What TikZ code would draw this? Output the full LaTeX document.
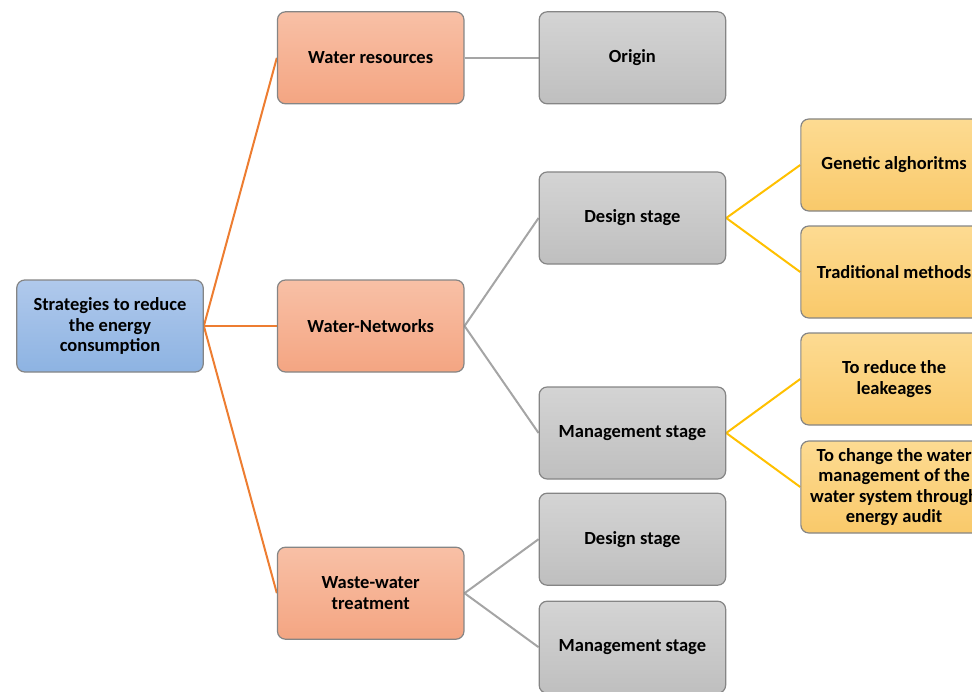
\documentclass[tikz,border=0pt]{standalone}
\usepackage{fontspec}
\setmainfont{Carlito}
\usetikzlibrary{positioning, backgrounds}

\definecolor{rootfill}{HTML}{8DB3E2}
\definecolor{rootfilltop}{HTML}{B0C9EC}
\definecolor{firstfill}{HTML}{F4A582}
\definecolor{firstfilltop}{HTML}{F8C0A6}
\definecolor{secondfill}{HTML}{BFBFBF}
\definecolor{secondfilltop}{HTML}{D4D4D4}
\definecolor{thirdfill}{HTML}{F9C96A}
\definecolor{thirdfilltop}{HTML}{FDDB92}
\definecolor{boxline}{HTML}{858585}
\definecolor{orangeline}{HTML}{ED7D31}
\definecolor{grayline}{HTML}{A5A5A5}
\definecolor{yellowline}{HTML}{FFC000}

\begin{document}
\begin{tikzpicture}[
    font=\fontsize{18.5}{20.5}\selectfont\bfseries,
    node distance=74pt,
    % Define styles for the different levels
    basebox/.style={rectangle, rounded corners=8pt, draw=boxline, line width=1.2pt, text centered, align=center, minimum width=186.5pt, minimum height=92pt, inner sep=2pt},
    rootbox/.style={basebox, top color=rootfilltop, bottom color=rootfill},
    firstbox/.style={basebox, top color=firstfilltop, bottom color=firstfill},
    secondbox/.style={basebox, top color=secondfilltop, bottom color=secondfill},
    thirdbox/.style={basebox, top color=thirdfilltop, bottom color=thirdfill},
    orangelink/.style={draw=orangeline, line width=2pt},
    graylink/.style={draw=grayline, line width=2pt},
    yellowlink/.style={draw=yellowline, line width=2pt},
]

% picture frame
\useasboundingbox (-110pt,-365pt) rectangle (862pt,326pt);
\clip (-110pt,-365pt) rectangle (862pt,326pt);

% -------------------------
% Root and first level
% -------------------------
\node (root) [rootbox] {Strategies to reduce\\the energy\\consumption};
\node (networks) [firstbox, right=73pt of root] {Water-Networks};
\node (resources) [firstbox, above=175pt of networks] {Water resources};
\node (waste) [firstbox, below=174pt of networks] {Waste-water\\treatment};

% -------------------------
% Second level
% -------------------------
\node (origin) [secondbox, right=of resources] {Origin};
\node (netdesign) [secondbox, right=of networks, yshift=108pt] {Design stage};
\node (netmanage) [secondbox, right=of networks, yshift=-107pt] {Management stage};
\node (wastedesign) [secondbox, right=of waste, yshift=54pt] {Design stage};
\node (wastemanage) [secondbox, right=of waste, yshift=-54pt] {Management stage};

% -------------------------
% Third level
% -------------------------
\node (genetic) [thirdbox, right=of netdesign, yshift=53pt] {Genetic alghoritms};
\node (traditional) [thirdbox, right=of netdesign, yshift=-54pt] {Traditional methods};
\node (leakage) [thirdbox, right=of netmanage, yshift=54pt] {To reduce the\\leakeages};
\node (audit) [thirdbox, right=of netmanage, yshift=-54pt] {To change the water\\management of the\\water system through\\energy audit};

% -------------------------
% Connections
% -------------------------
\begin{scope}[on background layer]
\draw[orangelink] (root.east) -- (resources.west);
\draw[orangelink] (root.east) -- (networks.west);
\draw[orangelink] (root.east) -- (waste.west);

\draw[graylink] (resources.east) -- (origin.west);
\draw[graylink] (networks.east) -- (netdesign.west);
\draw[graylink] (networks.east) -- (netmanage.west);
\draw[graylink] (waste.east) -- (wastedesign.west);
\draw[graylink] (waste.east) -- (wastemanage.west);

\draw[yellowlink] (netdesign.east) -- (genetic.west);
\draw[yellowlink] (netdesign.east) -- (traditional.west);
\draw[yellowlink] (netmanage.east) -- (leakage.west);
\draw[yellowlink] (netmanage.east) -- (audit.west);
\end{scope}

\end{tikzpicture}
\end{document}
